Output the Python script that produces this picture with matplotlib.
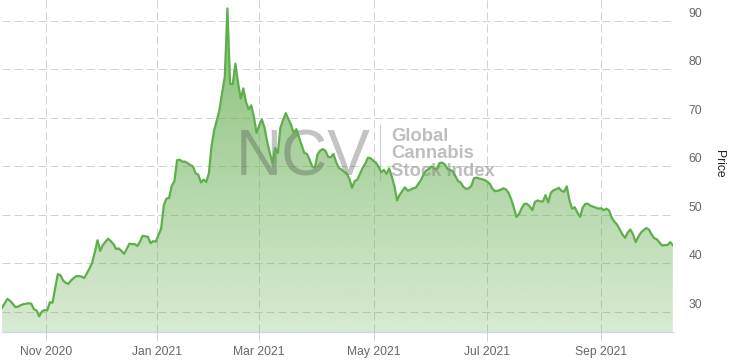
import numpy as np
import pandas as pd
import matplotlib
matplotlib.use("Agg")
import matplotlib.pyplot as plt
import matplotlib.transforms as mtransforms
from matplotlib.colors import to_rgb

# ---------------- data ----------------
start_date = "2020-10-08"
market_holidays = ["2020-11-26", "2020-12-25", "2021-01-01", "2021-01-18",
                   "2021-02-15", "2021-04-02", "2021-05-31", "2021-07-05",
                   "2021-09-06"]
price = [
    30.9, 31.8, 32.7, 32.3, 31.7, 31.0, 31.1, 31.4, 31.6, 31.7,
    31.8, 31.7, 30.6, 30.3, 29.1, 30.1, 30.4, 30.3, 32.0, 31.9,
    34.9, 37.8, 37.6, 36.5, 36.0, 35.8, 36.5, 37.0, 37.4, 37.4,
    37.3, 37.0, 38.0, 39.0, 40.2, 42.4, 44.8, 42.6, 43.8, 44.5,
    45.1, 44.6, 44.0, 43.0, 43.1, 42.6, 42.0, 43.0, 44.1, 44.0,
    44.0, 43.6, 44.5, 45.7, 45.6, 45.5, 44.2, 44.6, 44.5, 45.9,
    47.2, 52.0, 53.4, 53.5, 56.0, 57.0, 61.3, 61.4, 61.0, 61.0,
    60.7, 60.3, 60.0, 58.6, 58.3, 56.7, 57.3, 56.8, 58.6, 64.2,
    67.5, 69.5, 71.7, 75.2, 78.5, 92.6, 77.0, 77.0, 81.2, 77.3,
    74.0, 76.1, 73.3, 71.8, 72.6, 70.2, 66.9, 68.5, 69.7, 68.0,
    65.1, 62.7, 60.7, 63.8, 62.8, 68.0, 69.6, 71.0, 69.8, 68.6,
    66.9, 67.7, 66.0, 64.4, 62.8, 62.6, 61.4, 60.0, 59.8, 62.5,
    63.3, 63.6, 63.2, 62.0, 61.9, 62.6, 60.9, 59.7, 59.4, 58.9,
    58.6, 57.5, 55.6, 57.0, 57.3, 58.5, 59.7, 60.6, 61.8, 61.7,
    61.2, 60.8, 60.0, 58.8, 59.3, 58.5, 59.6, 57.9, 55.9, 53.0,
    54.2, 55.0, 55.7, 55.0, 55.2, 55.5, 55.6, 56.4, 57.2, 58.4,
    59.2, 59.5, 60.0, 59.6, 59.5, 60.7, 60.8, 60.4, 59.5, 59.3,
    59.0, 58.0, 57.0, 56.7, 55.8, 55.4, 55.5, 56.0, 57.6, 57.7,
    57.5, 57.4, 57.2, 56.9, 56.4, 55.4, 54.9, 55.0, 55.2, 55.5,
    55.3, 54.6, 53.3, 51.6, 49.6, 50.2, 51.4, 52.3, 52.3, 51.8,
    51.0, 52.7, 53.0, 52.8, 52.8, 54.1, 52.6, 54.6, 55.1, 55.3,
    55.6, 55.0, 54.8, 55.9, 53.1, 51.3, 51.6, 50.5, 49.6, 51.5,
    52.3, 52.3, 51.9, 51.7, 51.5, 51.3, 51.4, 51.0, 51.3, 50.9,
    49.4, 48.6, 48.0, 47.0, 46.0, 45.3, 46.4, 47.0, 46.0, 44.4,
    45.5, 46.4, 46.9, 47.3, 47.0, 46.0, 45.2, 45.0, 44.3, 43.7,
    43.8, 43.8, 44.4, 43.8,
]
month_ticks = ["2020-11-01", "2021-01-01", "2021-03-01",
               "2021-05-01", "2021-07-01", "2021-09-01"]
month_labels = ["Nov 2020", "Jan 2021", "Mar 2021",
                "May 2021", "Jul 2021", "Sep 2021"]
y_ticks = [30, 40, 50, 60, 70, 80, 90]
y_title = "Price"
wm_big = "NCV"
wm_lines = ["Global", "Cannabis", "Stock Index"]

# ---------------- ordinal (trading session) axis ----------------
sessions = pd.bdate_range(start=start_date, periods=len(price), freq="C",
                          holidays=market_holidays)
x = np.arange(len(price))
y = np.array(price)


def ordinal_pos(day):
    d = pd.Timestamp(day)
    i = sessions.searchsorted(d)
    if i < len(sessions) and sessions[i] == d:
        return float(i)
    prev, nxt = sessions[i - 1], sessions[i]
    return (i - 1) + (d - prev) / (nxt - prev)


tick_pos = [ordinal_pos(m) for m in month_ticks]

# ---------------- figure ----------------
W, H = 732, 363
fig = plt.figure(figsize=(W / 100, H / 100), dpi=100)
plt.rcParams["font.family"] = ["Liberation Sans", "DejaVu Sans"]

px_left, px_right, px_top, px_bottom = 2.1, 672.8, 0.0, 332.3
ax = fig.add_axes([px_left / W, (H - px_bottom) / H,
                   (px_right - px_left) / W, (px_bottom - px_top) / H])
ymin, ymax = 25.81, 94.33

line_color = "#5fae4c"
grid_color = "#d2d2d2"

# gradient fill under the curve
base = np.array(to_rgb("#64ad50"))
n = 256
alphas = np.linspace(0.25, 0.80, n)
grad = np.zeros((n, 1, 4))
grad[:, 0, :3] = base
grad[:, 0, 3] = alphas
poly = ax.fill_between(x, y, ymin, facecolor="none", edgecolor="none", lw=0)
im = ax.imshow(grad, extent=[x[0], x[-1], ymin, ymax], origin="lower",
               aspect="auto", zorder=1, interpolation="bilinear")
im.set_clip_path(poly.get_paths()[0], transform=ax.transData)

ax.plot(x, y, color=line_color, lw=1.6, zorder=3, solid_joinstyle="round")

ax.set_xlim(0, len(price) - 1)
ax.set_ylim(ymin, ymax)

# grid
ax.set_xticks(tick_pos)
ax.set_xticklabels(month_labels)
ax.set_yticks(y_ticks)
ax.set_yticklabels([])
ax.grid(True, color=grid_color, lw=0.72, linestyle=(0, (8, 4)), zorder=0.5)
ax.set_axisbelow(True)

for s in ["top", "right", "left"]:
    ax.spines[s].set_visible(False)
ax.spines["bottom"].set_color("#ccd6eb")
ax.spines["bottom"].set_linewidth(0.9)
ax.spines["bottom"].set_zorder(4)

ax.tick_params(axis="x", length=6.5, width=0.72, color=grid_color, pad=3.5,
               labelsize=8.7, labelcolor="#666666")
ax.tick_params(axis="y", length=0, left=False, right=False)

# y labels on the right, slightly above their grid lines
ylab_trans = mtransforms.offset_copy(
    mtransforms.blended_transform_factory(ax.transAxes, ax.transData),
    fig=fig, x=15.5, y=7.0, units="dots")
for v in y_ticks:
    ax.text(1.0, v, str(v), transform=ylab_trans, ha="left", va="center",
            fontsize=8.7, color="#666666", clip_on=False)

fig.text(719 / W, 1 - 164 / H, y_title, rotation=270, ha="center",
         va="center", fontsize=8.7, color="#222222")

# watermark
ax.text(236 / W, 1 - 175 / H, wm_big, transform=fig.transFigure,
        fontsize=46, color="#4a4a4a", alpha=0.33, ha="left", va="baseline",
        zorder=2, clip_on=False)
for i, t in enumerate(wm_lines):
    ax.text(391 / W, 1 - (140.7 + i * 17.7) / H, t, transform=fig.transFigure,
            fontsize=13.3, fontweight="bold", color="#8a8a8a", alpha=0.55,
            ha="left", va="baseline", zorder=2, clip_on=False)
ax.plot([380 / W, 380 / W], [1 - 125 / H, 1 - 180 / H],
        transform=fig.transFigure, color="#9a9a9a", alpha=0.5, lw=0.8,
        zorder=2, clip_on=False)

fig.savefig("out.png", dpi=100)
